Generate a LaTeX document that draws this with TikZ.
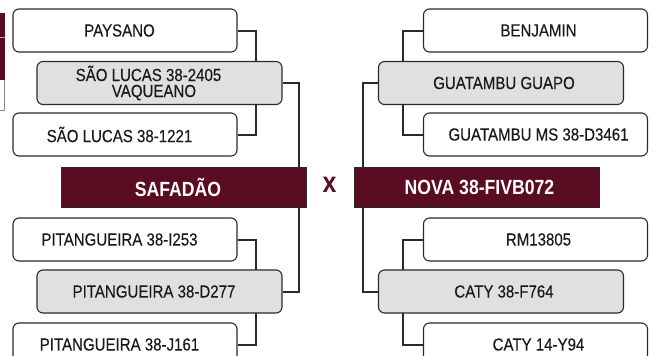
\documentclass[tikz,border=0pt]{standalone}
\usepackage{fontspec}
\newfontfamily\boxfont{Liberation Sans}[FakeStretch=0.86]
\newfontfamily\heavyfont{Liberation Sans}[FakeStretch=0.86, FakeBold=0.15]
\usetikzlibrary{backgrounds}

\definecolor{bordo}{HTML}{5A0D22}
\definecolor{cinza}{HTML}{E0E0E2}
\definecolor{traco}{HTML}{2A2A2A}

\begin{document}
\begin{tikzpicture}[
    x=1pt, y=-1pt,
    ancestor/.style={
        draw=traco,
        line width=1.1pt,
        rounded corners=6pt,
        fill=white,
        minimum width=224,
        minimum height=43,
        inner sep=0pt,
        text=black!90,
        font=\heavyfont\fontsize{17.5}{16}\selectfont,
    },
    parent/.style={
        ancestor,
        fill=cinza,
        minimum width=245,
        align=center,
    },
    animal/.style={
        draw=traco,
        line width=0.8pt,
        fill=bordo,
        minimum width=245,
        minimum height=40,
        inner sep=0pt,
        text=white,
        font=\boxfont\bfseries\fontsize{20.5}{22}\selectfont,
    },
    leftside/.style={execute at end node={\kern11pt}},
    rightside/.style={execute at begin node={\kern6pt}},
    link/.style={
        draw=traco,
        line width=2pt,
    }
]
    \useasboundingbox (0,0) rectangle (656,356);

    % Cut-off piece at the left edge
    \fill[bordo] (0,13) rectangle (4.5,80);
    \draw[white!60!bordo, line width=0.6pt] (0,37) -- (4.5,37);
    \draw[black!45, line width=0.6pt] (4.5,80) -- (4.5,110) -- (0,110);

    % Animals
    \node[animal, leftside] (sire) at (183.5,187) {SAFADÃO};
    \node[animal, rightside] (dam) at (476.5,187) {NOVA 38-FIVB072};
    \node[text=bordo, font=\boxfont\bfseries\fontsize{29}{29}\selectfont] (cross) at (329.5,185) {x};

    % Parents
    \node[parent, leftside] (ss) at (159.5,83) {SÃO LUCAS 38-2405\kern11pt\\VAQUEANO};
    \node[parent, leftside] (sd) at (159.5,291.5) {PITANGUEIRA 38-D277};
    \node[parent, rightside] (ds) at (501,83) {GUATAMBU GUAPO};
    \node[parent, rightside] (dd) at (501,291.5) {CATY 38-F764};

    % Grandparents
    \node[ancestor, leftside] (sss) at (125,30.5) {PAYSANO};
    \node[ancestor, leftside] (ssd) at (125,134.5) {SÃO LUCAS 38-1221};
    \node[ancestor, leftside] (sds) at (125,239.5) {PITANGUEIRA 38-I253};
    \node[ancestor, leftside] (sdd) at (125,344.5) {PITANGUEIRA 38-J161};
    \node[ancestor, rightside] (dss) at (535.5,30.5) {BENJAMIN};
    \node[ancestor, rightside] (dsd) at (535.5,134.5) {GUATAMBU MS 38-D3461};
    \node[ancestor, rightside] (dds) at (535.5,239.5) {RM13805};
    \node[ancestor, rightside] (ddd) at (535.5,344.5) {CATY 14-Y94};

    % Links
    \begin{pgfonlayer}{background}
        \draw[link] (sss.east) -- ++(18,0) |- (ssd.east);
        \draw[link] (sds.east) -- ++(18,0) |- (sdd.east);
        \draw[link] (ss.east) -| ([xshift=-7]sire.north east);
        \draw[link] (sd.east) -| ([xshift=-7]sire.south east);
        \draw[link] (dss.west) -- ++(-20,0) |- (dsd.west);
        \draw[link] (dds.west) -- ++(-20,0) |- (ddd.west);
        \draw[link] (ds.west) -| ([xshift=9]dam.north west);
        \draw[link] (dd.west) -| ([xshift=9]dam.south west);
    \end{pgfonlayer}
\end{tikzpicture}
\end{document}
